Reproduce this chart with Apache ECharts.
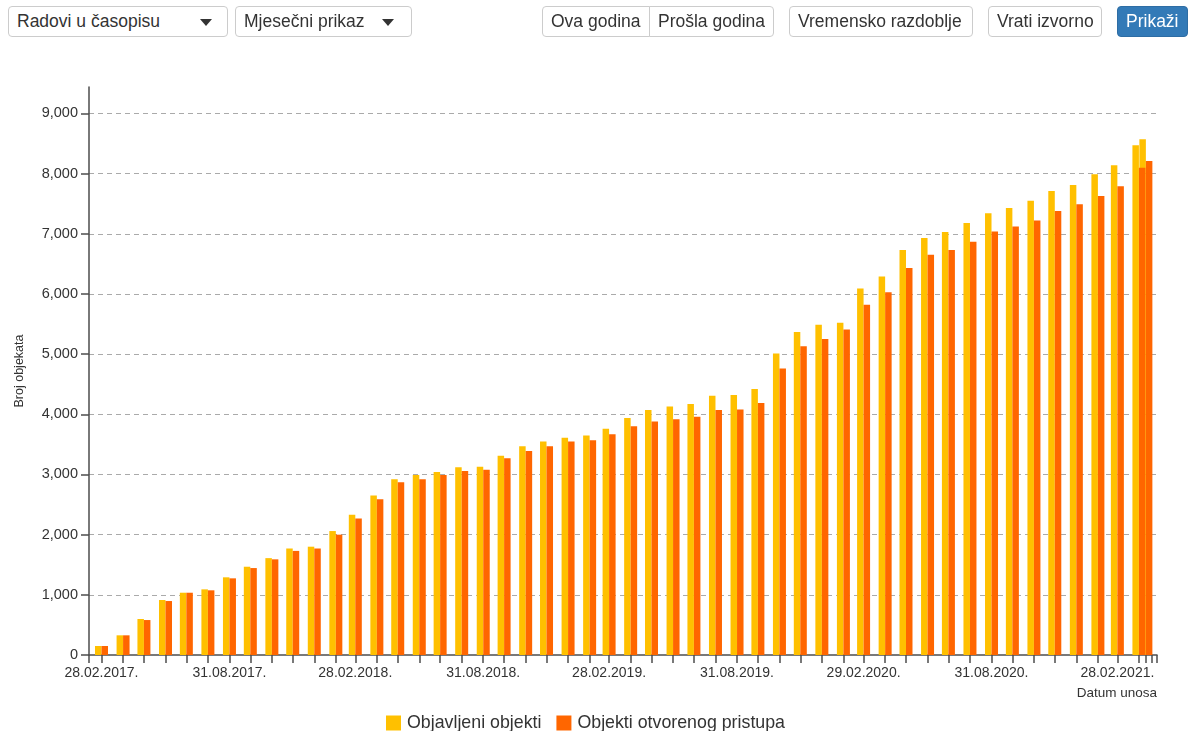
<!DOCTYPE html>
<html>
<head>
<meta charset="utf-8">
<script src="https://cdn.jsdelivr.net/npm/echarts@6/dist/echarts.min.js"></script>
<style>
  html, body { margin: 0; padding: 0; background: #fff; }
  body { width: 1190px; height: 731px; position: relative; overflow: hidden; font-family: "Liberation Sans", Arial, sans-serif; }
  #chart { position: absolute; left: 0; top: 0; width: 1190px; height: 731px; }
  .ctl { position: absolute; top: 6px; height: 31px; box-sizing: border-box; border: 1px solid #ccc; border-radius: 4px;
         background: #fff; color: #333; font-size: 17.5px; line-height: 29px; padding: 0 8px; white-space: nowrap; z-index: 2; }
  .caret { position: absolute; top: 12px; width: 0; height: 0; border-left: 6px solid transparent; border-right: 6px solid transparent; border-top: 7px solid #333; }
  .primary { background: #337ab7; border-color: #2e6da4; color: #fff; }
</style>
</head>
<body>
<div id="chart"></div>
<div class="ctl" style="left:8px;width:220px;">Radovi u časopisu<span class="caret" style="left:191px"></span></div>
<div class="ctl" style="left:235px;width:177px;">Mjesečni prikaz<span class="caret" style="left:146px"></span></div>
<div class="ctl" style="left:542px;width:108px;border-radius:4px 0 0 4px;">Ova godina</div>
<div class="ctl" style="left:649px;width:125px;border-radius:0 4px 4px 0;">Prošla godina</div>
<div class="ctl" style="left:789px;width:184px;">Vremensko razdoblje</div>
<div class="ctl" style="left:988px;width:114px;">Vrati izvorno</div>
<div class="ctl primary" style="left:1117px;width:71px;">Prikaži</div>
<script>
// ---- data ----
const dates = [
  '2017-02-28','2017-03-31','2017-04-30','2017-05-31','2017-06-30','2017-07-31','2017-08-31','2017-09-30','2017-10-31','2017-11-30','2017-12-31',
  '2018-01-31','2018-02-28','2018-03-31','2018-04-30','2018-05-31','2018-06-30','2018-07-31','2018-08-31','2018-09-30','2018-10-31','2018-11-30','2018-12-31',
  '2019-01-31','2019-02-28','2019-03-31','2019-04-30','2019-05-31','2019-06-30','2019-07-31','2019-08-31','2019-09-30','2019-10-31','2019-11-30','2019-12-31',
  '2020-01-31','2020-02-29','2020-03-31','2020-04-30','2020-05-31','2020-06-30','2020-07-31','2020-08-31','2020-09-30','2020-10-31','2020-11-30','2020-12-31',
  '2021-01-31','2021-02-28','2021-03-31','2021-04-10'
];
const published = [
  150, 327, 598, 914, 1035, 1091, 1291, 1467, 1610, 1770, 1800,
  2060, 2330, 2650, 2920, 2990, 3040, 3120, 3130, 3310, 3470, 3550, 3610,
  3650, 3760, 3940, 4070, 4130, 4170, 4310, 4320, 4420, 5010, 5370, 5490,
  5520, 6090, 6290, 6730, 6930, 7030, 7180, 7340, 7430, 7550, 7710, 7810,
  7990, 8140, 8470, 8570
];
const openAccess = [
  150, 327, 581, 897, 1035, 1075, 1274, 1445, 1590, 1730, 1770,
  2000, 2270, 2590, 2870, 2920, 2990, 3060, 3080, 3270, 3390, 3470, 3550,
  3570, 3670, 3800, 3880, 3920, 3960, 4070, 4080, 4190, 4760, 5130, 5250,
  5410, 5820, 6030, 6430, 6650, 6730, 6870, 7040, 7120, 7220, 7380, 7490,
  7630, 7790, 8100, 8210
];
const labelDates = ['2017-02-28','2017-08-31','2018-02-28','2018-08-31','2019-02-28','2019-08-31','2020-02-29','2020-08-31','2021-02-28'];
const extraTickDates = ['2021-04-18','2021-04-26'];
const axisStart = '2017-02-10';
const axisEnd = '2021-04-26';
const seriesNames = ['Objavljeni objekti', 'Objekti otvorenog pristupa'];
const yTicks = [0, 1000, 2000, 3000, 4000, 5000, 6000, 7000, 8000, 9000];
const yMax = 9440;

// ---- chart ----
const DAY = 86400000;
const ts = s => { const p = s.split('-').map(Number); return Date.UTC(p[0], p[1] - 1, p[2]) / DAY; };
const pad = n => (n < 10 ? '0' : '') + n;
const fmtDate = v => { const d = new Date(Math.round(v) * DAY); return pad(d.getUTCDate()) + '.' + pad(d.getUTCMonth() + 1) + '.' + d.getUTCFullYear() + '.'; };
const FONT = '"Liberation Sans", Arial, sans-serif';
const axisColor = '#4d4d4d';

const chart = echarts.init(document.getElementById('chart'), null, { renderer: 'canvas' });
chart.setOption({
  animation: false,
  textStyle: { fontFamily: FONT },
  grid: { left: 89, right: 33, top: 87, bottom: 76, containLabel: false, outerBoundsMode: 'none' },
  legend: {
    top: 709, left: 381,
    icon: 'rect', itemWidth: 15, itemHeight: 15, itemGap: 15,
    textStyle: { fontSize: 17.8, color: '#333', fontFamily: FONT, padding: [0, 0, 0, 1] },
    data: seriesNames
  },
  xAxis: {
    type: 'value',
    min: ts(axisStart), max: ts(axisEnd),
    name: 'Datum unosa',
    nameLocation: 'end', nameGap: 0,
    nameTextStyle: { fontSize: 13.5, color: '#333', align: 'right', verticalAlign: 'top', padding: [31, 0, 0, 0], fontFamily: FONT },
    axisLine: { show: true, onZero: false, lineStyle: { color: axisColor, width: 1.5 } },
    axisTick: { show: true, length: 8, lineStyle: { color: axisColor, width: 1.5 },
      customValues: [ts(axisStart)].concat(dates.map(ts), extraTickDates.map(ts)) },
    axisLabel: { customValues: labelDates.map(ts), formatter: v => fmtDate(v), fontSize: 14, color: '#333', margin: 11, fontFamily: FONT, hideOverlap: false },
    splitLine: { show: false }
  },
  yAxis: {
    type: 'value', min: 0, max: yMax, interval: 1000,
    name: 'Broj objekata', nameLocation: 'middle', nameGap: 63,
    nameTextStyle: { fontSize: 12.5, color: '#333', fontFamily: FONT },
    axisLine: { show: true, lineStyle: { color: axisColor, width: 1.5 } },
    axisTick: { show: true, length: 8, lineStyle: { color: axisColor, width: 1.5 } },
    axisLabel: { fontSize: 14.5, color: '#333', margin: 11, fontFamily: FONT, showMaxLabel: false,
      formatter: v => (yTicks.indexOf(v) >= 0 ? v.toLocaleString('en-US') : '') },
    splitLine: { show: true, showMaxLine: false, showMinLine: false, lineStyle: { color: '#aaa', type: [5, 4], width: 1 } }
  },
  series: [
    { name: seriesNames[0], type: 'bar', barWidth: 6.5, barGap: '0%', itemStyle: { color: '#FFC000' },
      data: dates.map((d, i) => [ts(d), published[i]]) },
    { name: seriesNames[1], type: 'bar', barWidth: 6.5, barGap: '0%', itemStyle: { color: '#FF6600' },
      data: dates.map((d, i) => [ts(d), openAccess[i]]) }
  ]
});
</script>
</body>
</html>
